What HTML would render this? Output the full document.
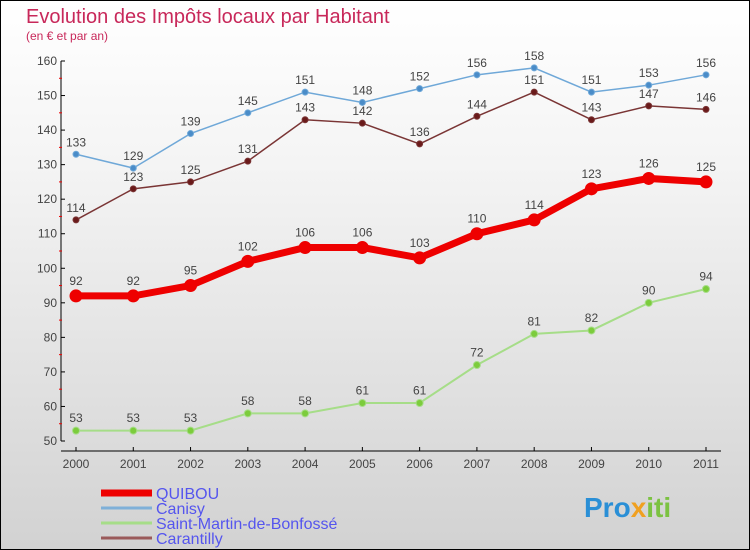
<!DOCTYPE html>
<html><head><meta charset="utf-8"><style>
body{margin:0}
#c{width:750px;height:550px;position:relative;box-sizing:border-box;border:1px solid #000;background:linear-gradient(#fff 0%,#f4f4f4 30%,#d2d2d2 100%);font-family:"Liberation Sans",sans-serif;overflow:hidden}
svg{position:absolute;left:0;top:0}
</style></head><body>
<div id="c">
<svg id="s" width="750" height="550">
<text x="25" y="22" font-size="20" fill="#c8285a">Evolution des Impôts locaux par Habitant</text>
<text x="25" y="39" font-size="12" fill="#c8285a">(en € et par an)</text>
<g id="ax"></g><g id="ser"></g><g id="leg"></g>
<text x="583" y="516" font-size="28" font-weight="bold" fill="#2a8fd6">Pro<tspan fill="#f0a020">x</tspan><tspan fill="#7cc242">iti</tspan></text>
</svg></div>
<script>
const years=[2000,2001,2002,2003,2004,2005,2006,2007,2008,2009,2010,2011];
const yTicks=[50,60,70,80,90,100,110,120,130,140,150,160];
const quibou=[92,92,95,102,106,106,103,110,114,123,126,125];
const canisy=[133,129,139,145,151,148,152,156,158,151,153,156];
const stMartin=[53,53,53,58,58,61,61,72,81,82,90,94];
const carantilly=[114,123,125,131,143,142,136,144,151,143,147,146];
const names=["QUIBOU","Canisy","Saint-Martin-de-Bonfossé","Carantilly"];
const NS="http://www.w3.org/2000/svg";
const xS=y=>75+(y-2000)*(705-75)/11;
const yS=v=>440-(v-50)*(380/110);
function mk(t,a,p){const e=document.createElementNS(NS,t);for(const k in a)e.setAttribute(k,a[k]);p.appendChild(e);return e;}
const ax=document.getElementById('ax');
let l=mk('line',{x1:60,y1:60,x2:60,y2:440,stroke:'#000'},ax);


l=mk('line',{x1:60,y1:450,x2:720,y2:450,stroke:'#000'},ax);


yTicks.forEach((v,i)=>{const y=yS(v);
mk('line',{x1:60,y1:y,x2:64,y2:y,stroke:'#000'},ax);
if(i<yTicks.length-1)mk('line',{x1:58,y1:yS(v+5),x2:61,y2:yS(v+5),stroke:'#e00'},ax);
const t=mk('text',{x:56,y:y+4,'font-size':12,fill:'#444','text-anchor':'end'},ax);t.textContent=v;

});
years.forEach(yr=>{const x=xS(yr);
mk('line',{x1:x,y1:446,x2:x,y2:450,stroke:'#000'},ax);
const t=mk('text',{x:x,y:467,'font-size':12,fill:'#444','text-anchor':'middle'},ax);t.textContent=yr;

});
const ser=document.getElementById('ser');
function draw(data,color,dot,w,r,key){
const g=mk('g',{},ser);


mk('polyline',{points:data.map((v,i)=>xS(years[i])+','+yS(v)).join(' '),fill:'none',stroke:color,'stroke-width':w},g);
data.forEach((v,i)=>{const c=mk('circle',{cx:xS(years[i]),cy:yS(v),r:r,fill:dot,stroke:color,'stroke-width':1},g);


const t=mk('text',{x:xS(years[i]),y:yS(v)-(r+5),'font-size':12,fill:'#444','text-anchor':'middle'},g);t.textContent=v;

});}
draw(stMartin,'#a6dd88','#7ccc3c',2,3.5,'st-martin');
draw(carantilly,'#7a3535','#6a1a1a',1.5,3,'carantilly');
draw(canisy,'#6fa8d8','#4a8cc8',1.5,3,'canisy');
draw(quibou,'#ee0000','#ee0000',7,6,'quibou');
const leg=document.getElementById('leg');
const lc=['#ee0000','#7fb0d8','#a6dd88','#9a5a5a'],lw=[7,3,3,3];
names.forEach((n,i)=>{const y=492+i*15;
const g=mk('g',{},leg);


mk('line',{x1:100,y1:y,x2:151,y2:y,stroke:lc[i],'stroke-width':lw[i]},g);
const t=mk('text',{x:155,y:y+6,'font-size':16,fill:'#5555ee'},g);t.textContent=n;});
</script></body></html>
